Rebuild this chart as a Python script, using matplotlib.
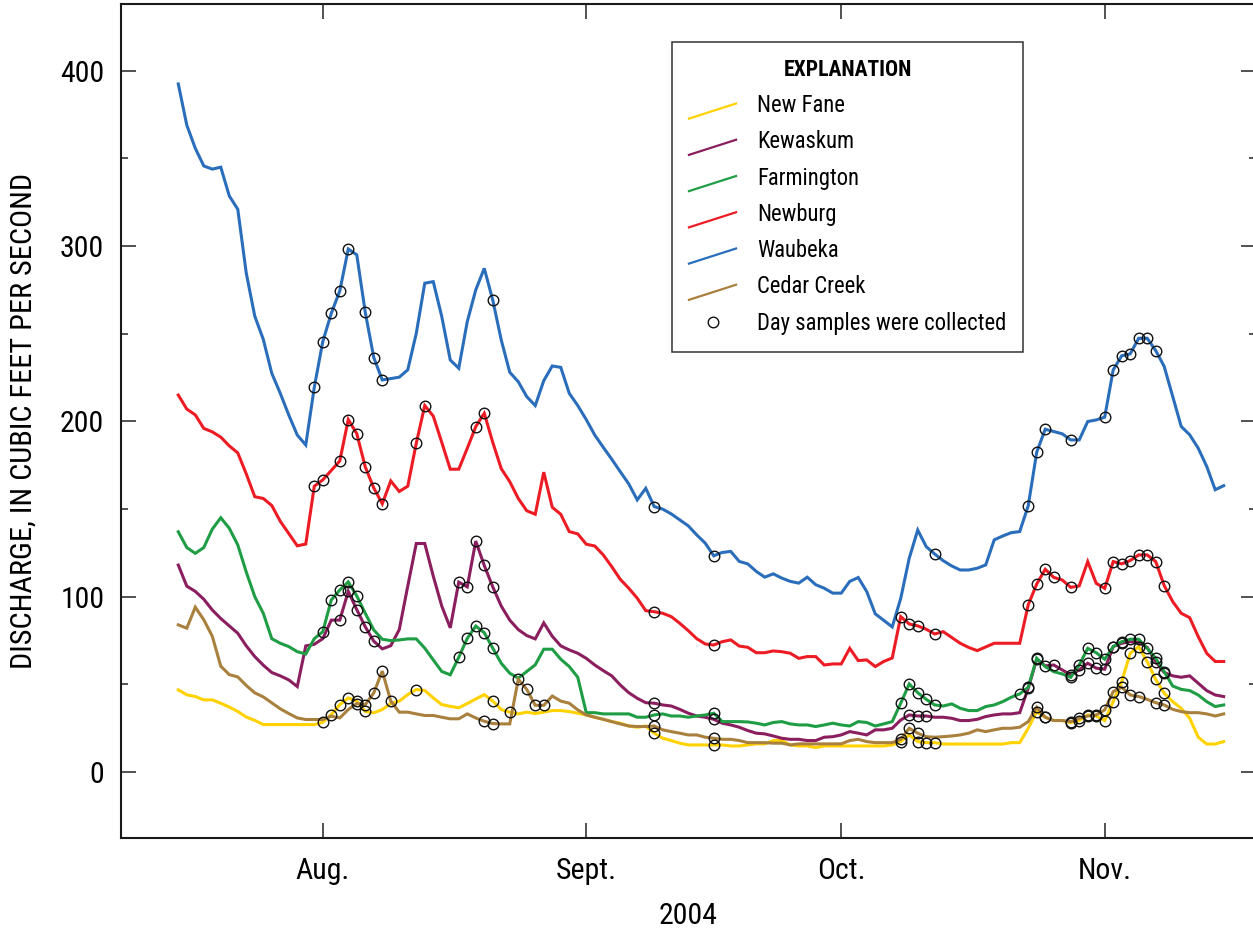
import datetime as dt

import matplotlib
matplotlib.use('Agg')
import matplotlib.pyplot as plt
import pandas as pd
from matplotlib import font_manager
from matplotlib.legend_handler import HandlerLine2D
from matplotlib.lines import Line2D
from matplotlib.ticker import MultipleLocator

# daily mean discharge, July 15 - Nov. 15, 2004 (cubic feet per second)
start_day = '2004-07-15'
end_day = '2004-11-15'

new_fane = [
    46.8, 44.0, 43.0, 41.1, 41.1, 39.2, 37.0, 34.5, 31.3, 29.4,
    27.0, 27.0, 27.0, 27.0, 27.0, 27.0, 27.0, 28.3, 32.7, 38.4,
    42.2, 40.4, 34.5, 33.7, 35.6, 39.0, 40.4, 44.1, 47.0, 46.5,
    42.2, 38.4, 37.4, 36.6, 39.0, 41.6, 44.1, 40.4, 35.6, 34.1,
    33.1, 34.1, 33.3, 34.1, 35.0, 35.0, 34.4, 33.5, 32.5, 31.2,
    30.0, 28.7, 27.8, 26.2, 25.5, 26.2, 22.1, 19.2, 17.9, 16.4,
    15.4, 15.4, 15.4, 15.4, 15.4, 14.8, 14.8, 15.4, 16.0, 16.0,
    17.9, 17.9, 15.4, 14.8, 14.8, 13.9, 14.8, 14.8, 14.8, 14.8,
    14.8, 14.8, 14.8, 14.8, 15.4, 17.3, 21.1, 17.3, 16.7, 16.7,
    15.9, 15.9, 15.9, 15.9, 15.9, 15.9, 15.9, 15.9, 16.7, 16.7,
    24.9, 34.4, 31.2, 29.3, 29.3, 28.1, 29.3, 32.5, 31.9, 29.3,
    40.1, 51.5, 67.7, 71.5, 62.9, 52.8, 44.9, 40.1, 36.3, 30.6,
    19.8, 15.9, 15.9, 17.3,
]
kewaskum = [
    118.0, 106.0, 103.0, 98.5, 92.4, 87.5, 83.3, 79.1, 71.9, 65.8,
    60.9, 56.7, 54.8, 52.5, 48.7, 71.9, 72.8, 76.0, 86.6, 86.6,
    103.0, 92.6, 82.8, 74.6, 70.2, 72.0, 81.2, 106.0, 130.3, 130.3,
    111.7, 94.6, 82.2, 108.3, 105.6, 131.7, 117.8, 105.6, 94.6, 86.6,
    81.2, 77.8, 75.9, 85.0, 77.4, 71.9, 69.6, 67.7, 64.8, 61.0,
    57.8, 54.8, 49.6, 45.2, 42.0, 39.5, 39.2, 38.2, 37.6, 35.7,
    33.5, 31.9, 31.2, 30.0, 27.8, 26.8, 25.5, 23.6, 22.1, 21.7,
    20.5, 19.2, 18.6, 18.6, 17.9, 17.9, 19.8, 20.1, 21.1, 23.0,
    22.1, 21.1, 24.0, 24.0, 24.9, 29.6, 32.5, 31.9, 31.9, 31.2,
    31.2, 30.6, 29.3, 29.3, 30.0, 31.6, 32.5, 33.1, 33.1, 33.8,
    47.7, 64.3, 60.5, 61.0, 58.2, 55.4, 58.2, 62.0, 59.2, 58.6,
    71.5, 73.4, 74.3, 73.7, 71.0, 62.9, 56.7, 54.8, 54.0, 54.8,
    50.6, 46.4, 43.9, 43.0,
]
farmington = [
    137.0, 128.0, 124.7, 128.0, 138.5, 145.0, 139.0, 129.5, 114.0, 100.0,
    90.5, 76.0, 73.4, 71.5, 68.6, 67.3, 76.0, 80.0, 98.1, 103.8,
    108.4, 100.4, 90.5, 81.0, 75.7, 74.9, 75.3, 75.9, 75.9, 70.6,
    63.9, 57.3, 55.4, 65.4, 76.2, 83.2, 79.4, 70.6, 62.0, 56.3,
    53.5, 57.3, 61.1, 70.0, 70.0, 64.3, 60.1, 54.0, 33.8, 33.8,
    33.1, 33.1, 33.1, 33.1, 31.2, 31.2, 32.5, 33.1, 31.9, 31.9,
    31.2, 31.9, 32.5, 33.5, 28.7, 28.7, 28.7, 28.5, 27.8, 26.8,
    28.2, 28.7, 27.4, 26.8, 26.8, 25.9, 26.8, 27.8, 26.8, 26.2,
    28.7, 28.2, 26.2, 27.4, 28.7, 39.2, 50.2, 45.2, 41.4, 38.2,
    37.6, 38.8, 36.3, 35.0, 35.0, 37.3, 38.2, 40.1, 42.6, 44.5,
    48.3, 64.8, 60.1, 57.2, 55.9, 54.0, 61.0, 70.5, 68.0, 64.3,
    71.5, 74.3, 75.7, 75.7, 70.5, 64.8, 57.2, 49.0, 47.1, 46.4,
    43.9, 40.1, 37.3, 38.2,
]
newburg = [
    215.0, 207.0, 203.7, 196.0, 194.0, 191.0, 186.0, 182.0, 170.0, 157.0,
    156.0, 152.0, 143.0, 136.0, 129.0, 130.0, 163.0, 166.6, 172.0, 177.4,
    201.0, 193.0, 174.0, 162.0, 153.0, 166.0, 160.0, 163.0, 187.5, 209.0,
    203.0, 188.0, 172.7, 172.7, 184.6, 197.0, 204.6, 188.0, 173.0, 165.6,
    156.0, 149.0, 147.0, 171.0, 151.0, 147.0, 137.1, 135.8, 129.9, 128.9,
    123.8, 117.1, 109.9, 104.8, 99.1, 92.0, 91.4, 90.5, 88.6, 84.8,
    80.6, 76.0, 73.0, 72.4, 74.3, 75.3, 71.8, 71.1, 68.0, 68.0,
    69.0, 68.6, 67.7, 64.8, 65.8, 65.8, 61.0, 61.6, 61.6, 70.5,
    63.5, 63.9, 60.1, 63.0, 65.0, 88.6, 84.4, 83.3, 81.4, 78.7,
    80.0, 76.7, 73.4, 71.0, 69.2, 71.3, 73.4, 73.4, 73.4, 73.4,
    95.3, 107.2, 115.6, 111.0, 109.5, 105.3, 106.1, 120.0, 107.6, 104.7,
    120.0, 118.7, 120.6, 123.8, 123.8, 120.0, 106.3, 97.2, 90.5, 88.0,
    77.2, 67.7, 63.0, 63.0,
]
waubeka = [
    392.5, 369.0, 355.8, 345.7, 343.9, 345.0, 328.6, 321.0, 284.5, 260.0,
    246.8, 227.4, 216.0, 203.6, 192.2, 186.5, 219.4, 245.5, 261.6, 274.4,
    298.3, 295.0, 262.2, 236.4, 223.6, 224.4, 225.2, 229.4, 250.2, 278.8,
    279.7, 259.8, 235.0, 230.3, 256.9, 275.0, 287.3, 269.2, 246.4, 228.0,
    222.6, 214.1, 209.0, 223.2, 231.6, 230.8, 216.0, 209.0, 201.0, 192.2,
    185.2, 178.4, 171.3, 164.3, 155.2, 161.8, 151.4, 149.9, 147.2, 143.8,
    140.4, 135.2, 130.5, 123.3, 125.2, 125.8, 120.1, 118.7, 114.4, 111.1,
    113.0, 110.6, 108.7, 107.7, 111.1, 106.8, 104.8, 102.0, 102.0, 108.7,
    110.9, 102.9, 90.2, 86.5, 82.7, 99.0, 121.9, 138.0, 128.5, 124.3,
    120.5, 117.5, 115.2, 115.2, 116.2, 118.1, 132.4, 134.6, 136.5, 137.1,
    151.8, 182.4, 195.5, 194.2, 192.9, 189.4, 189.4, 199.9, 200.8, 202.4,
    229.4, 237.4, 238.5, 247.4, 247.4, 240.4, 231.3, 214.2, 197.1, 192.3,
    184.7, 174.3, 161.0, 163.3,
]
cedar_creek = [
    83.9, 82.0, 94.0, 86.8, 77.4, 60.3, 55.5, 54.2, 49.3, 45.1,
    42.8, 39.4, 36.0, 33.3, 30.8, 29.9, 29.9, 29.9, 31.8, 30.8,
    35.6, 39.0, 38.4, 45.1, 57.5, 40.4, 34.1, 34.1, 33.1, 32.2,
    32.2, 31.2, 30.3, 30.3, 33.1, 30.8, 28.9, 27.6, 27.4, 27.4,
    52.8, 47.1, 38.0, 38.0, 43.3, 40.4, 39.2, 35.4, 32.5, 31.2,
    30.0, 28.7, 27.4, 26.2, 25.9, 25.9, 26.2, 24.0, 23.0, 22.1,
    21.1, 21.1, 19.8, 19.2, 18.6, 18.6, 17.9, 16.7, 16.7, 16.7,
    16.4, 16.4, 15.4, 16.0, 16.0, 16.0, 16.0, 16.0, 16.0, 17.9,
    18.6, 17.3, 16.7, 16.7, 16.7, 18.6, 24.9, 22.1, 20.1, 19.8,
    20.1, 20.5, 21.1, 22.1, 24.0, 23.0, 24.0, 24.9, 24.9, 25.5,
    28.7, 36.9, 31.2, 29.3, 29.3, 28.7, 30.6, 31.9, 32.5, 35.4,
    45.8, 48.3, 43.9, 43.0, 41.4, 39.5, 38.2, 35.7, 34.4, 33.8,
    33.8, 33.1, 31.9, 33.1,
]

# days on which water samples were collected at each site (month/day, 2004)
nov_run = ['11/1', '11/2', '11/3', '11/4', '11/5', '11/6', '11/7', '11/8']
samples_new_fane = ['8/1', '8/2', '8/3', '8/4', '8/5', '8/6', '8/12', '8/21', '8/23',
                    '9/9', '9/16', '10/8', '10/10', '10/11', '10/12', '10/24', '10/25',
                    '10/28', '10/29', '10/30', '10/31'] + nov_run
samples_kewaskum = ['8/3', '8/4', '8/5', '8/6', '8/7', '8/17', '8/18', '8/19', '8/20',
                    '8/21', '9/9', '9/16', '10/9', '10/10', '10/11', '10/23', '10/24',
                    '10/25', '10/26', '10/28', '10/29', '10/30', '10/31', '11/1', '11/2',
                    '11/3', '11/7', '11/8']
samples_farmington = ['8/1', '8/2', '8/3', '8/4', '8/5', '8/17', '8/18', '8/19', '8/20',
                      '8/21', '9/9', '9/16', '10/8', '10/9', '10/10', '10/11', '10/12',
                      '10/22', '10/23', '10/24', '10/28', '10/29', '10/30', '10/31'] + nov_run
samples_newburg = ['7/31', '8/1', '8/3', '8/4', '8/5', '8/6', '8/7', '8/8', '8/12', '8/13',
                   '8/19', '8/20', '9/9', '9/16', '10/8', '10/9', '10/10', '10/12',
                   '10/23', '10/24', '10/25', '10/26', '10/28'] + nov_run
samples_waubeka = ['7/31', '8/1', '8/2', '8/3', '8/4', '8/6', '8/7', '8/8', '8/21',
                   '9/9', '9/16', '10/12', '10/23', '10/24', '10/25', '10/28'] + nov_run[:-1]
samples_cedar_creek = ['8/5', '8/6', '8/7', '8/8', '8/9', '8/20', '8/21', '8/24', '8/25',
                       '8/26', '8/27', '9/9', '9/16', '10/8', '10/9', '10/10', '10/24',
                       '10/25', '10/28', '10/29', '10/30', '10/31', '11/1', '11/2', '11/3',
                       '11/4', '11/5', '11/7', '11/8']

site_names = ['New Fane', 'Kewaskum', 'Farmington', 'Newburg', 'Waubeka', 'Cedar Creek']
site_flows = [new_fane, kewaskum, farmington, newburg, waubeka, cedar_creek]
site_samples = [samples_new_fane, samples_kewaskum, samples_farmington,
                samples_newburg, samples_waubeka, samples_cedar_creek]
site_colors = ['#FFD200', '#8B1E5E', '#1F9D45', '#ED1C24', '#2A6EBB', '#A9803E']

month_ticks = ['2004-08-01', '2004-09-01', '2004-10-01', '2004-11-01']
month_labels = ['Aug.', 'Sept.', 'Oct.', 'Nov.']
sample_label = 'Day samples were collected'

# pick a narrow sans face; DejaVu condensed runs wider, so size it down a bit
installed = {f.name for f in font_manager.fontManager.ttflist}
narrow = [n for n in ('Roboto Condensed', 'Liberation Sans Narrow', 'Open Sans Condensed')
          if n in installed]
if narrow:
    plt.rcParams['font.family'] = [narrow[0], 'DejaVu Sans']
    fs = 1.0
else:
    plt.rcParams['font.family'] = ['DejaVu Sans']
    plt.rcParams['font.stretch'] = 'condensed'
    fs = 0.93


class SlantedLine(HandlerLine2D):
    """Legend key drawn as a short rising stroke."""

    def create_artists(self, legend, orig_handle, xdescent, ydescent,
                       width, height, fontsize, trans):
        x0, x1 = -xdescent, -xdescent + width
        y0, y1 = -ydescent - 0.45 * height, -ydescent + 0.55 * height
        line = Line2D([x0, x1], [y0, y1])
        self.update_prop(line, orig_handle, legend)
        line.set_transform(trans)
        return [line]


days = pd.date_range(start_day, end_day, freq='D')

W, H = 1253, 934
fig = plt.figure(figsize=(W / 100, H / 100), dpi=100)
ax = fig.add_axes([121 / W, 96 / H, 1135 / W, 834 / H])

line_handles = []
for name, flow, samples, color in zip(site_names, site_flows, site_samples, site_colors):
    series = pd.Series(flow, index=days)
    h, = ax.plot(series.index, series.values, color=color, lw=2.2,
                 solid_joinstyle='miter', label=name, zorder=3)
    line_handles.append(h)
    picked = series[pd.to_datetime(['2004/' + s for s in samples])]
    ax.plot(picked.index, picked.values, ls='none', marker='o', ms=7.6,
            mfc='none', mec='#111111', mew=1.0, zorder=5)

t0 = pd.Timestamp(start_day)
ax.set_xlim(t0 - dt.timedelta(days=6.74), t0 + dt.timedelta(days=126.8))
ax.set_ylim(-37.7, 438.1)

ax.set_xticks(pd.to_datetime(month_ticks))
ax.set_xticklabels(month_labels)
ax.yaxis.set_major_locator(MultipleLocator(100))
ax.yaxis.set_minor_locator(MultipleLocator(50))
ax.tick_params(axis='both', which='both', direction='in', top=True, right=True,
               labelsize=21.5 * fs, width=1.1, color='#222222')
ax.tick_params(axis='both', which='major', length=10.5)
ax.tick_params(axis='y', which='minor', length=5.3)
ax.tick_params(axis='y', pad=12)
ax.tick_params(axis='x', pad=13.5)
for sp in ax.spines.values():
    sp.set_linewidth(1.5)
    sp.set_color('#1a1a1a')

ax.set_ylabel('DISCHARGE, IN CUBIC FEET PER SECOND', fontsize=21.8 * fs)
ax.yaxis.set_label_coords(-0.0731, 0.5)
ax.set_xlabel('2004', fontsize=21.5 * fs)
ax.xaxis.set_label_coords(0.5, -0.0767)

marker_handle = Line2D([], [], ls='none', marker='o', ms=7.6, mfc='none',
                       mec='#111111', mew=1.0)
handler_map = {h: SlantedLine() for h in line_handles}
leg = ax.legend(line_handles + [marker_handle], site_names + [sample_label],
                title='EXPLANATION', loc='upper left',
                bbox_to_anchor=(672 / W, 1 - 42 / H), bbox_transform=fig.transFigure,
                fancybox=False, framealpha=1, edgecolor='#333333', fontsize=16.3 * fs,
                title_fontproperties={'weight': 'bold', 'size': 15.6 * fs},
                handlelength=2.08, handleheight=0.65, handletextpad=0.93,
                labelspacing=0.585, borderpad=0.75, borderaxespad=0,
                handler_map=handler_map)
leg.get_frame().set_linewidth(1.1)
for h in leg.legend_handles[:-1]:
    h.set_linewidth(1.6)

fig.savefig('out.png', dpi=100)
